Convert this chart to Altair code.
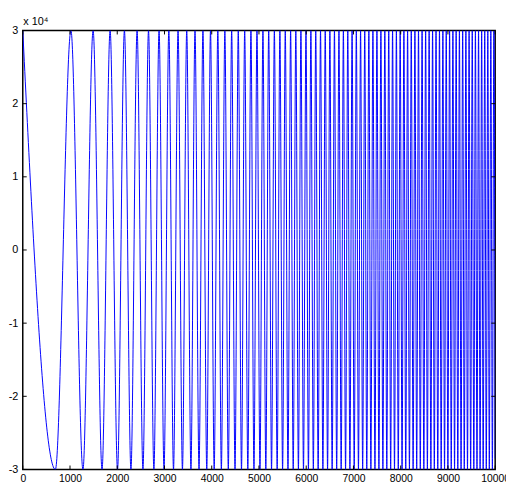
import altair as alt
import pandas as pd

# Times (samples) of the chirp's maxima and minima
max_t = [0, 1020, 1489, 1849, 2152, 2420, 2662, 2885, 3092, 3287, 3471, 3646,
         3814, 3974, 4129, 4278, 4422, 4562, 4698, 4830, 4958, 5084, 5206, 5326,
         5443, 5557, 5670, 5780, 5888, 5995, 6099, 6202, 6303, 6403, 6501, 6598,
         6693, 6787, 6880, 6971, 7061, 7151, 7239, 7326, 7412, 7497, 7581, 7664,
         7747, 7828, 7909, 7989, 8068, 8146, 8224, 8301, 8377, 8453, 8528, 8602,
         8675, 8748, 8821, 8893, 8964, 9035, 9105, 9174, 9243, 9312, 9380, 9448,
         9515, 9582, 9648, 9714, 9779, 9844, 9908, 9972]
min_t = [690, 1274, 1678, 2006, 2290, 2544, 2776, 2990, 3191, 3380, 3560, 3731,
         3895, 4052, 4204, 4351, 4493, 4630, 4764, 4894, 5021, 5145, 5266, 5385,
         5500, 5614, 5725, 5835, 5942, 6047, 6151, 6253, 6353, 6452, 6549, 6645,
         6740, 6833, 6925, 7016, 7106, 7195, 7282, 7369, 7455, 7539, 7623, 7706,
         7788, 7869, 7949, 8029, 8107, 8185, 8263, 8339, 8415, 8490, 8565, 8639,
         8712, 8785, 8857, 8928, 8999, 9070, 9140, 9209, 9278, 9346, 9414, 9481,
         9548, 9615, 9681, 9746, 9812, 9876, 9941]
peak_value = 30000
trough_value = -30000
end_t = [10000]
end_value = [-28500]

x_ticks = [0, 1000, 2000, 3000, 4000, 5000, 6000, 7000, 8000, 9000, 10000]
y_ticks = [-30000, -20000, -10000, 0, 10000, 20000, 30000]

rows = ([{"t": t, "v": peak_value} for t in max_t]
        + [{"t": t, "v": trough_value} for t in min_t]
        + [{"t": t, "v": v} for t, v in zip(end_t, end_value)])
df = pd.DataFrame(rows).sort_values("t").reset_index(drop=True)

W, H = 480, 446
FONT = "Liberation Sans"

xs = alt.Scale(domain=[0, 10000], nice=False, zero=False)
ys = alt.Scale(domain=[-30000, 30000], nice=False, zero=False)

line = alt.Chart(df).mark_line(
    color="#0000ff", strokeWidth=1, interpolate="monotone", clip=True
).encode(
    x=alt.X("t:Q", scale=xs, axis=alt.Axis(
        values=x_ticks, title=None, labelExpr="'' + datum.value",
        ticks=False, domain=False, grid=False, labelPadding=4,
        labelFontSize=10.5, labelFont=FONT, labelColor="#000", labelFlush=False)),
    y=alt.Y("v:Q", scale=ys, axis=alt.Axis(
        values=y_ticks, title="x 10\u2074", titleAngle=0, titleAlign="left",
        titleBaseline="bottom", titleX=0, titleY=-4, titleFontSize=11,
        titleFontWeight="normal", titleFont=FONT, titleColor="#000",
        labelExpr="'' + (datum.value / 10000)",
        ticks=False, domain=False, grid=False, labelPadding=5,
        labelFontSize=11, labelFont=FONT, labelColor="#000", labelFlush=False)),
)

xt = pd.DataFrame({"t": x_ticks})
yt = pd.DataFrame({"v": y_ticks})
tick_color = "#000000"
bot = alt.Chart(xt).mark_rule(color=tick_color, strokeWidth=1).encode(
    x=alt.X("t:Q", scale=xs), y=alt.value(H), y2=alt.value(H - 4))
top = alt.Chart(xt).mark_rule(color=tick_color, strokeWidth=1).encode(
    x=alt.X("t:Q", scale=xs), y=alt.value(0), y2=alt.value(4))
left = alt.Chart(yt).mark_rule(color=tick_color, strokeWidth=1).encode(
    y=alt.Y("v:Q", scale=ys), x=alt.value(0), x2=alt.value(4))
right = alt.Chart(yt).mark_rule(color=tick_color, strokeWidth=1).encode(
    y=alt.Y("v:Q", scale=ys), x=alt.value(W), x2=alt.value(W - 4))

chart = alt.layer(line, bot, top, left, right).properties(
    width=W, height=H,
    padding={"left": 15, "top": 19, "right": 11, "bottom": 17},
    autosize=alt.AutoSizeParams(type="none"),
    background="white",
).configure_view(stroke="#000000", strokeWidth=1.5)

chart.save("out.html", embed_options={"renderer": "svg", "actions": False})
